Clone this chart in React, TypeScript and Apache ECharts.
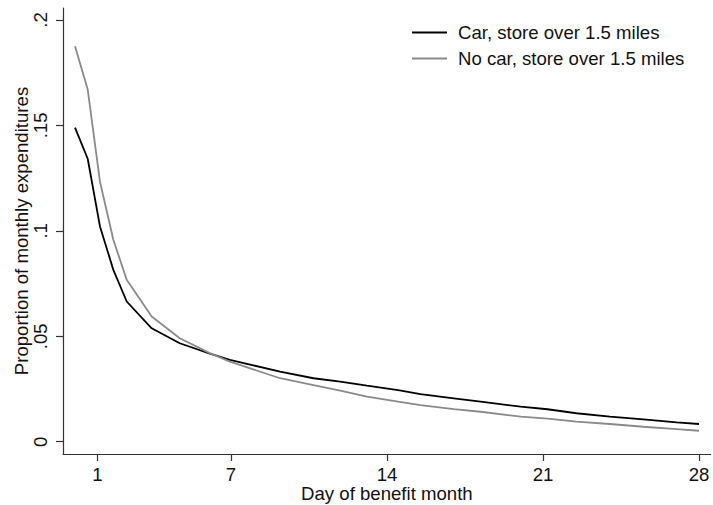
import React, { useEffect, useRef } from "react";
import * as echarts from "echarts";

// Day of benefit month at which each estimate is plotted
const days = [0, 0.57, 1.12, 1.72, 2.32, 3.44, 4.7, 6.05, 6.95, 8, 9.2, 10.7, 11.9, 13.1, 14.5, 15.5, 17, 18.2, 20, 21.2, 22.5, 24, 25.5, 27, 28];

// Proportion of monthly expenditures
const carFar = [0.149, 0.1342, 0.1021, 0.0815, 0.0665, 0.0538, 0.0467, 0.0418, 0.0388, 0.0362, 0.0332, 0.0301, 0.0285, 0.0266, 0.0245, 0.0226, 0.0206, 0.019, 0.0166, 0.0154, 0.0135, 0.0119, 0.0106, 0.0092, 0.0084];
const noCarFar = [0.1876, 0.167, 0.1233, 0.0958, 0.0768, 0.0594, 0.0491, 0.042, 0.038, 0.0343, 0.0301, 0.0268, 0.0242, 0.0214, 0.019, 0.0174, 0.0155, 0.0142, 0.0119, 0.0109, 0.0095, 0.0084, 0.0071, 0.006, 0.0052];

const seriesNames = ["Car, store over 1.5 miles", "No car, store over 1.5 miles"];
const xTicks = [1, 7, 14, 21, 28];
const yTicks = [0, 0.05, 0.1, 0.15, 0.2];

const FONT = "'Liberation Sans', Arial, Helvetica, sans-serif";
const FS = 18.6;

export default function App() {
  const ref = useRef<HTMLDivElement>(null);

  useEffect(() => {
    if (!ref.current) return;
    const chart = echarts.init(ref.current, null, { renderer: "svg" });
    const pairs = (vals: number[]) => days.map((d, i) => [d, vals[i]]);

    chart.setOption({
      animation: false,
      backgroundColor: "#ffffff",
      grid: { left: 63, right: 2.3, top: 8, bottom: 51, containLabel: false, outerBoundsMode: "none" },
      legend: {
        orient: "vertical",
        left: 412,
        top: 23,
        padding: 0,
        icon: "rect",
        itemWidth: 35,
        itemHeight: 2,
        itemGap: 7,
        data: seriesNames,
        textStyle: { fontFamily: FONT, fontSize: FS, color: "#111", padding: [0, 0, 0, 6] },
      },
      xAxis: {
        type: "value",
        min: -0.539,
        max: 28.525,
        name: "Day of benefit month",
        nameLocation: "middle",
        nameGap: 30,
        nameMoveOverlap: false,
        nameTextStyle: { fontFamily: FONT, fontSize: FS, color: "#111" },
        splitLine: { show: false },
        axisLine: { show: true, onZero: false, lineStyle: { color: "#333", width: 1.2 } },
        axisTick: { show: true, length: 7, customValues: xTicks, lineStyle: { color: "#333", width: 1.2 } },
        axisLabel: {
          customValues: xTicks,
          margin: 11,
          fontFamily: FONT,
          fontSize: FS,
          color: "#111",
        },
      },
      yAxis: {
        type: "value",
        min: -0.00583,
        max: 0.2057,
        name: "Proportion of monthly expenditures",
        nameLocation: "middle",
        nameGap: 32,
        nameMoveOverlap: false,
        nameTextStyle: { fontFamily: FONT, fontSize: FS, color: "#111" },
        splitLine: { show: false },
        axisLine: { show: true, onZero: false, lineStyle: { color: "#333", width: 1.2 } },
        axisTick: { show: true, length: 7, customValues: yTicks, lineStyle: { color: "#333", width: 1.2 } },
        axisLabel: {
          customValues: yTicks,
          rotate: 90,
          margin: 13,
          fontFamily: FONT,
          fontSize: FS,
          color: "#111",
          formatter: (v: number) => (v === 0 ? "0" : String(v).replace(/^0/, "")),
        },
      },
      series: [
        {
          name: seriesNames[0],
          type: "line",
          data: pairs(carFar),
          symbol: "none",
          lineStyle: { color: "#000000", width: 1.8 },
          itemStyle: { color: "#000000" },
        },
        {
          name: seriesNames[1],
          type: "line",
          data: pairs(noCarFar),
          symbol: "none",
          lineStyle: { color: "#8a8a8a", width: 1.8 },
          itemStyle: { color: "#8a8a8a" },
        },
      ],
    });

    return () => chart.dispose();
  }, []);

  return (
    <div
      ref={ref}
      style={{ position: "fixed", left: 0, top: 0, width: 713, height: 505, background: "#fff" }}
    />
  );
}
